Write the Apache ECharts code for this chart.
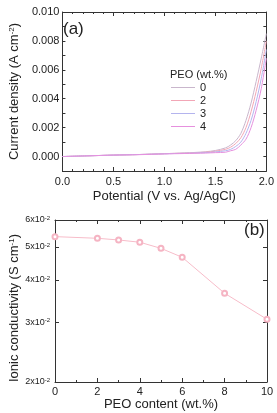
<!DOCTYPE html>
<html>
<head>
<meta charset="utf-8">
<script src="https://cdn.jsdelivr.net/npm/echarts@6/dist/echarts.min.js"></script>
<style>
html, body { margin: 0; padding: 0; background: #fff; }
#chart { width: 277px; height: 413px; }
</style>
</head>
<body>
<div id="chart"></div>
<script>
// (a) current density vs potential
const potential = [0, 0.25, 0.5, 0.75, 1.0, 1.2, 1.4, 1.5, 1.6, 1.65, 1.7, 1.75, 1.8, 1.85, 1.9, 1.95, 2.0];
const peo0 = [0, 0.00005, 0.0001, 0.00014, 0.0002, 0.00025, 0.00033, 0.00042, 0.0006, 0.0008, 0.0011, 0.0016, 0.0025, 0.0037, 0.0052, 0.0068, 0.0085];
const peo2 = [0, 0.00005, 0.0001, 0.00014, 0.0002, 0.00024, 0.0003, 0.00037, 0.0005, 0.00065, 0.0009, 0.0013, 0.002, 0.0031, 0.0045, 0.0061, 0.008];
const peo3 = [0, 0.00005, 0.0001, 0.00014, 0.00019, 0.00023, 0.00027, 0.00032, 0.0004, 0.0005, 0.0007, 0.001, 0.0016, 0.0025, 0.0038, 0.0054, 0.0074];
const peo4 = [0, 0.00005, 0.0001, 0.00013, 0.00018, 0.00021, 0.00024, 0.00027, 0.0003, 0.0004, 0.0005, 0.0008, 0.0012, 0.002, 0.0032, 0.0047, 0.0068];
const peoNames = ['0', '2', '3', '4'];
const curveColors = ['#c9b6cc', '#f2a6b6', '#b4b4ee', '#e690de'];

// (b) ionic conductivity vs PEO content
const peoContent = [0, 2, 3, 4, 5, 6, 8, 10];
const conductivity = [0.0536, 0.0530, 0.0524, 0.0516, 0.0495, 0.0466, 0.0365, 0.0306];
const condTicks = [0.02, 0.03, 0.04, 0.05, 0.06];

const font = 'Liberation Sans';
const axisColor = '#333';
const textColor = '#222';
const condMin = condTicks[0];
const condMax = condTicks[condTicks.length - 1];

function pairs(xs, ys) {
    return xs.map((x, i) => [x, ys[i]]);
}

function label(text, x, y, size) {
    return {type: 'text', left: x, top: y, silent: true,
        style: {text: text, fontFamily: font, fontSize: size, fill: textColor}};
}

const frameLine = {show: true, onZero: false, lineStyle: {color: axisColor, width: 1}};

const option = {
    animation: false,
    textStyle: {fontFamily: font, color: textColor},
    graphic: [
        label('(a)', 63, 21, 17),
        label('(b)', 244, 222, 17),
        label('PEO (wt.%)', 170, 69, 11)
    ],
    legend: {
        data: peoNames.map(n => ({name: n, icon: 'rect'})),
        orient: 'vertical',
        left: 171,
        top: 82,
        padding: 0,
        itemWidth: 24,
        itemHeight: 1,
        itemGap: 2,
        textStyle: {fontFamily: font, fontSize: 11, lineHeight: 11, color: textColor}
    },
    grid: [
        {left: 55, top: 12, width: 215, height: 159},
        {left: 55, top: 220, width: 212, height: 162}
    ],
    xAxis: [
        {
            gridIndex: 0, type: 'value', min: 0, max: 2, interval: 0.5,
            axisLine: frameLine,
            axisTick: {inside: true, length: 4, lineStyle: {color: axisColor}},
            minorTick: {show: true, splitNumber: 5, length: 2, lineStyle: {color: axisColor}},
            axisLabel: {margin: 5, fontSize: 11, color: textColor, formatter: v => v.toFixed(1)},
            splitLine: {show: false},
            name: 'Potential (V vs. Ag/AgCl)', nameLocation: 'middle', nameGap: 19,
            nameTextStyle: {fontSize: 13, color: textColor}
        },
        {
            gridIndex: 0, type: 'value', position: 'top', min: 0, max: 2, interval: 0.5,
            axisLine: frameLine,
            axisTick: {inside: true, length: 4, lineStyle: {color: axisColor}},
            minorTick: {show: true, splitNumber: 5, length: 2, lineStyle: {color: axisColor}},
            axisLabel: {show: false},
            splitLine: {show: false}
        },
        {
            gridIndex: 1, type: 'value', min: 0, max: 10, interval: 2,
            axisLine: frameLine,
            axisTick: {inside: true, length: 4, lineStyle: {color: axisColor}},
            minorTick: {show: true, splitNumber: 2, length: 2, lineStyle: {color: axisColor}},
            axisLabel: {margin: 4, fontSize: 11, color: textColor},
            splitLine: {show: false},
            name: 'PEO content (wt.%)', nameLocation: 'middle', nameGap: 14,
            nameTextStyle: {fontSize: 13, color: textColor}
        },
        {
            gridIndex: 1, type: 'value', position: 'top', min: 0, max: 10, interval: 2,
            axisLine: frameLine,
            axisTick: {inside: true, length: 4, lineStyle: {color: axisColor}},
            minorTick: {show: true, splitNumber: 2, length: 2, lineStyle: {color: axisColor}},
            axisLabel: {show: false},
            splitLine: {show: false}
        }
    ],
    yAxis: [
        {
            gridIndex: 0, type: 'value', min: -0.001, max: 0.010, interval: 0.001,
            axisLine: frameLine,
            axisTick: {inside: true, length: 3, lineStyle: {color: axisColor}},
            axisLabel: {
                margin: 3, fontSize: 11, color: textColor,
                formatter: v => {
                    const k = Math.round(v * 1000);
                    return (k >= 0 && k % 2 === 0) ? (k / 1000).toFixed(3) : '';
                }
            },
            splitLine: {show: false},
            name: 'Current density (A cm{sup|-2})', nameLocation: 'middle', nameGap: 35,
            nameTextStyle: {fontSize: 13, color: textColor, rich: {sup: {fontSize: 8, verticalAlign: 'top', color: textColor}}}
        },
        {
            gridIndex: 0, type: 'value', position: 'right', min: -0.001, max: 0.010, interval: 0.001,
            axisLine: frameLine,
            axisTick: {inside: true, length: 3, lineStyle: {color: axisColor}},
            axisLabel: {show: false},
            splitLine: {show: false}
        },
        {
            // log scale used by the data
            gridIndex: 1, type: 'log', logBase: 10, min: condMin, max: condMax,
            axisLine: frameLine,
            axisTick: {show: false},
            axisLabel: {show: false},
            splitLine: {show: false},
            name: 'Ionic conductivity (S cm{sup|-1})', nameLocation: 'middle', nameGap: 34,
            nameTextStyle: {fontSize: 13, color: textColor, padding: [0, 14, 0, 0], rich: {sup: {fontSize: 8, verticalAlign: 'top', color: textColor}}}
        },
        {
            // tick labels at 2..6 x10^-2 placed on the same log positions
            gridIndex: 1, type: 'value', position: 'left', min: Math.log10(condMin), max: Math.log10(condMax),
            axisLine: {show: false},
            axisTick: {inside: true, length: 4, customValues: condTicks.map(Math.log10), lineStyle: {color: axisColor}},
            axisLabel: {
                margin: 5, customValues: condTicks.map(Math.log10),
                formatter: v => '{m|' + Math.round(Math.pow(10, v) * 100) + 'x10}{s|-2}',
                rich: {m: {fontSize: 9, color: textColor}, s: {fontSize: 6, verticalAlign: 'top', color: textColor}}
            },
            splitLine: {show: false}
        },
        {
            gridIndex: 1, type: 'value', position: 'right', min: Math.log10(condMin), max: Math.log10(condMax),
            axisLine: frameLine,
            axisTick: {inside: true, length: 4, customValues: condTicks.map(Math.log10), lineStyle: {color: axisColor}},
            axisLabel: {show: false},
            splitLine: {show: false}
        }
    ],
    series: [
        {name: '0', type: 'line', xAxisIndex: 0, yAxisIndex: 0, data: pairs(potential, peo0), symbol: 'none', smooth: 0.3, color: curveColors[0], lineStyle: {width: 1}},
        {name: '2', type: 'line', xAxisIndex: 0, yAxisIndex: 0, data: pairs(potential, peo2), symbol: 'none', smooth: 0.3, color: curveColors[1], lineStyle: {width: 1}},
        {name: '3', type: 'line', xAxisIndex: 0, yAxisIndex: 0, data: pairs(potential, peo3), symbol: 'none', smooth: 0.3, color: curveColors[2], lineStyle: {width: 1}},
        {name: '4', type: 'line', xAxisIndex: 0, yAxisIndex: 0, data: pairs(potential, peo4), symbol: 'none', smooth: 0.3, color: curveColors[3], lineStyle: {width: 1}},
        {
            name: 'conductivity', type: 'line', xAxisIndex: 2, yAxisIndex: 2,
            data: pairs(peoContent, conductivity),
            symbol: 'emptyCircle', symbolSize: 5,
            itemStyle: {color: '#f5b4c3', borderWidth: 1},
            lineStyle: {color: '#f7bcc9', width: 1}
        }
    ]
};

const chart = echarts.init(document.getElementById('chart'));
chart.setOption(option);
</script>
</body>
</html>
